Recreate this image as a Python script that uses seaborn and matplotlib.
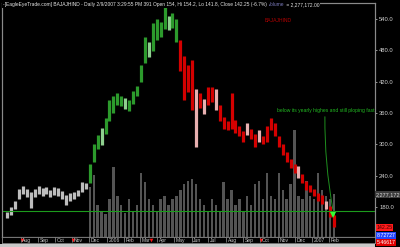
import numpy as np
import pandas as pd
import matplotlib
matplotlib.use("Agg")
import matplotlib.pyplot as plt
import matplotlib.dates as mdates
import seaborn as sns

# ---------------- data (weekly) ----------------
week_start = "2005-07-08"
n_weeks = 84
price_high = [170, 180, 192, 214, 220, 215, 208, 214, 220, 216, 218, 213, 218, 216, 210, 202, 206, 208, 213, 228, 226,
              262, 300, 318, 332, 350, 385, 392, 398, 392, 388, 384, 402, 412, 452, 505, 496, 532, 540, 535, 563, 545, 552, 540,
              500, 470, 452, 461, 405, 398, 386, 410, 410, 405, 375, 352, 345, 398, 346, 335, 326, 340, 330, 320, 328, 316,
              335, 350, 340, 316, 300, 286, 272, 263, 258, 242, 230, 222, 215, 206, 202, 192, 182, 165]
price_low = [158, 165, 175, 195, 205, 198, 178, 198, 205, 200, 204, 198, 203, 200, 195, 183, 192, 195, 200, 208, 215,
             225, 265, 290, 298, 320, 345, 360, 375, 374, 368, 364, 378, 392, 420, 455, 468, 478, 500, 505, 520, 518, 522, 495,
             440, 385, 400, 365, 295, 370, 358, 375, 380, 365, 345, 330, 328, 330, 322, 315, 305, 318, 310, 295, 305, 300,
             305, 328, 315, 295, 280, 265, 255, 245, 235, 225, 212, 208, 200, 192, 186, 176, 160, 141.8]
bar_tone = (["flat"] * 21 + ["up"] * 23 + ["down"] * 40)
for _i in [48, 50, 53, 61, 64, 74, 81]:
    bar_tone[_i] = "mixed"
for _i in [24, 30, 36, 41]:
    bar_tone[_i] = "uplight"

volume_first_week = 21
volume_m = [2.65, 3.3, 1.7, 1.4, 1.2, 2.0, 3.7, 2.2, 1.7, 1.3, 2.0, 1.4, 1.7, 3.4, 2.9, 2.0, 1.7, 1.4, 2.0, 2.2, 1.7, 2.0, 2.2,
            2.5, 2.8, 3.0, 3.1, 2.8, 2.0, 1.7, 1.4, 2.0, 1.7, 1.4, 2.9, 2.0, 2.5, 1.7, 2.0, 1.4, 2.2, 1.7, 2.8, 3.0, 2.0,
            3.4, 2.2, 2.0, 3.4, 2.5, 2.0, 2.8, 5.7, 2.2, 2.0, 3.0, 2.2, 2.0, 3.4, 2.5, 2.2, 2.0, 2.28]

price_ticks = [180, 240, 300, 360, 420, 480, 540]
month_starts = pd.date_range("2005-08-01", "2007-02-01", freq="MS")
month_labels = ["Aug", "Sep", "Oct", "Nov", "Dec", "2006", "Feb", "Mar", "Apr", "May", "Jun",
                "Jul", "Aug", "Sep", "Oct", "Nov", "Dec", "2007", "Feb"]
hline_level = 172
signal_dates = ["2005-08-04", "2005-11-02", "2006-03-21", "2006-10-02"]
title_main = "-[EagleEyeTrade.com] BAJAJHIND - Daily 2/9/2007 3:29:55 PM 391 Open 154, Hi 154.2, Lo 141.8, Close 142.25 (-6.7%) "
title_vol = "Volume"
title_end = " = 2,277,172.00"
note_text = "below its yearly highes and still ploping fast"
note_xy = ("2006-10-31", 365)
arrow_from = ("2007-01-24", 358)
arrow_to = ("2007-02-08", 170)

# ---------------- style ----------------
sns.set_style("dark", rc={"axes.facecolor": "black", "figure.facecolor": "black",
                          "axes.edgecolor": "#8a8a8a", "text.color": "#d0d0d0"})
plt.rcParams["font.family"] = ["Liberation Sans", "DejaVu Sans"]

W, H = 400, 247
fig = plt.figure(figsize=(W / 100, H / 100), dpi=100)
fig.patch.set_facecolor("black")

left, right, top, bot = 2, 375, 3, 237
ax_vol = fig.add_axes([left / W, 1 - bot / H, (right - left) / W, (bot - top) / H])
ax_vol.set_facecolor("black")

weeks = pd.date_range(week_start, periods=n_weeks, freq="7D")
wnum = mdates.date2num(weeks)

vol_df = pd.DataFrame({"date": wnum[volume_first_week:], "vol": np.array(volume_m) * 1e6})
sns.barplot(data=vol_df, x="date", y="vol", native_scale=True, color="#545454", saturation=1,
            errorbar=None, width=0.6, edgecolor="none", ax=ax_vol)
ax_vol.set_ylim(0, 12.45e6)
ax_vol.set_yticks([])
ax_vol.set_xlabel("")
ax_vol.set_ylabel("")

x0 = mdates.date2num(pd.Timestamp("2005-06-29"))
x1 = mdates.date2num(pd.Timestamp("2007-04-23"))
ax_vol.set_xlim(x0, x1)
ax_vol.set_xticks([])
for s in ax_vol.spines.values():
    s.set_color("#8a8a8a")
    s.set_linewidth(0.8)

ax_p = ax_vol.twinx()
ax_p.set_xlim(x0, x1)
ax_p.set_ylim(122.1, 570.7)
tone_colors = {"flat": "#bdbdbd", "up": "#2c9a2c", "uplight": "#8fd08f", "down": "#d40000", "mixed": "#e8b0b0"}
cols = [tone_colors[t] for t in bar_tone]
ax_p.vlines(wnum, price_low, price_high, colors=cols, linewidth=2.3)
ax_p.axhline(hline_level, color="#1c9c1c", lw=0.8)

ax_p.set_yticks(price_ticks)
ax_p.set_yticklabels([f"{v:.1f}" for v in price_ticks])
ax_p.tick_params(axis="y", colors="#d0d0d0", labelsize=4.2, length=1.5, pad=1.5, width=0.5)
ax_p.tick_params(axis="x", length=0)
ax_p.grid(False)
ax_vol.grid(False)
for s in ax_p.spines.values():
    s.set_color("#8a8a8a")
    s.set_linewidth(0.8)

# annotation
ax_p.text(mdates.date2num(pd.Timestamp(note_xy[0])), note_xy[1], note_text, color="#22b822",
          fontsize=3.6, va="center", ha="left", clip_on=False)
ax_p.annotate("", xy=(mdates.date2num(pd.Timestamp(arrow_to[0])), arrow_to[1]),
              xytext=(mdates.date2num(pd.Timestamp(arrow_from[0])), arrow_from[1]),
              arrowprops=dict(arrowstyle="-", color="#1f8f1f", lw=0.7, connectionstyle="arc3,rad=0.05"))
ax_p.plot([mdates.date2num(pd.Timestamp(arrow_to[0]))], [arrow_to[1] - 5], marker="v", color="#33ff33",
          markersize=4, markeredgewidth=0)
ax_p.text(0.705, 0.925, "BAJAJHIND", transform=ax_p.transAxes, color="#b00000", fontsize=3.6,
          va="center", ha="left")

# date strip
ax_d = fig.add_axes([left / W, 1 - 243 / H, (right - left) / W, 6 / H])
ax_d.set_facecolor("black")
ax_d.set_xlim(x0, x1)
ax_d.set_ylim(0, 1)
ax_d.set_xticks([])
ax_d.set_yticks([])
for s in ax_d.spines.values():
    s.set_color("#8a8a8a")
    s.set_linewidth(0.6)
mnum = mdates.date2num(month_starts)
ax_d.vlines(mnum, 0.15, 1, colors="#9a9a9a", lw=0.5)
for m, lab in zip(mnum, month_labels):
    ax_d.text(m + 3, 0.45, lab, fontsize=3.6, color="#c8c8c8", va="center", ha="left")
ax_d.plot(mdates.date2num(pd.to_datetime(signal_dates)), [0.55] * len(signal_dates), "v",
          color="#ff1010", markersize=2.6, markeredgewidth=0, clip_on=False)

# bottom status strip
fig.patches.append(plt.Rectangle((0, 0), right / W, 3.2 / H, transform=fig.transFigure,
                                 facecolor="#c8c8c8", edgecolor="none"))

# title
t1 = fig.text(left / W + 0.002, 1 - 4.5 / H, title_main, fontsize=3.55, color="#e6e6e6", va="center", ha="left",
              bbox=dict(facecolor="black", edgecolor="none", pad=0.4))
t2 = ax_p.annotate(title_vol, xy=(1, 0.5), xycoords=t1, va="center", ha="left", fontsize=3.55,
                   color="#7878b8", annotation_clip=False,
                   bbox=dict(facecolor="black", edgecolor="none", pad=0.4))
ax_p.annotate(title_end, xy=(1, 0.5), xycoords=t2, va="center", ha="left", fontsize=3.55,
              color="#e6e6e6", annotation_clip=False,
              bbox=dict(facecolor="black", edgecolor="none", pad=0.4))

# right-hand value boxes
fig.text(376 / W, 1 - 194.5 / H, "2,277,172", fontsize=4, color="#d8d8d8", va="center", ha="left",
         bbox=dict(facecolor="#3c3c3c", edgecolor="none", pad=0.5))
fig.text(376.5 / W, 1 - 227.5 / H, "142.25", fontsize=3.8, color="#400000", va="center", ha="left",
         bbox=dict(facecolor="#ff1a1a", edgecolor="none", pad=0.5))
fig.text(376.5 / W, 1 - 235.5 / H, "8.72727", fontsize=3.8, color="#ffffff", va="center", ha="left",
         bbox=dict(facecolor="#2244ff", edgecolor="none", pad=0.5))
fig.text(376.5 / W, 1 - 242.5 / H, "5.46617", fontsize=3.8, color="#ffffff", va="center", ha="left",
         bbox=dict(facecolor="#e00000", edgecolor="none", pad=0.5))

fig.savefig("out.png", dpi=100, facecolor="black")
